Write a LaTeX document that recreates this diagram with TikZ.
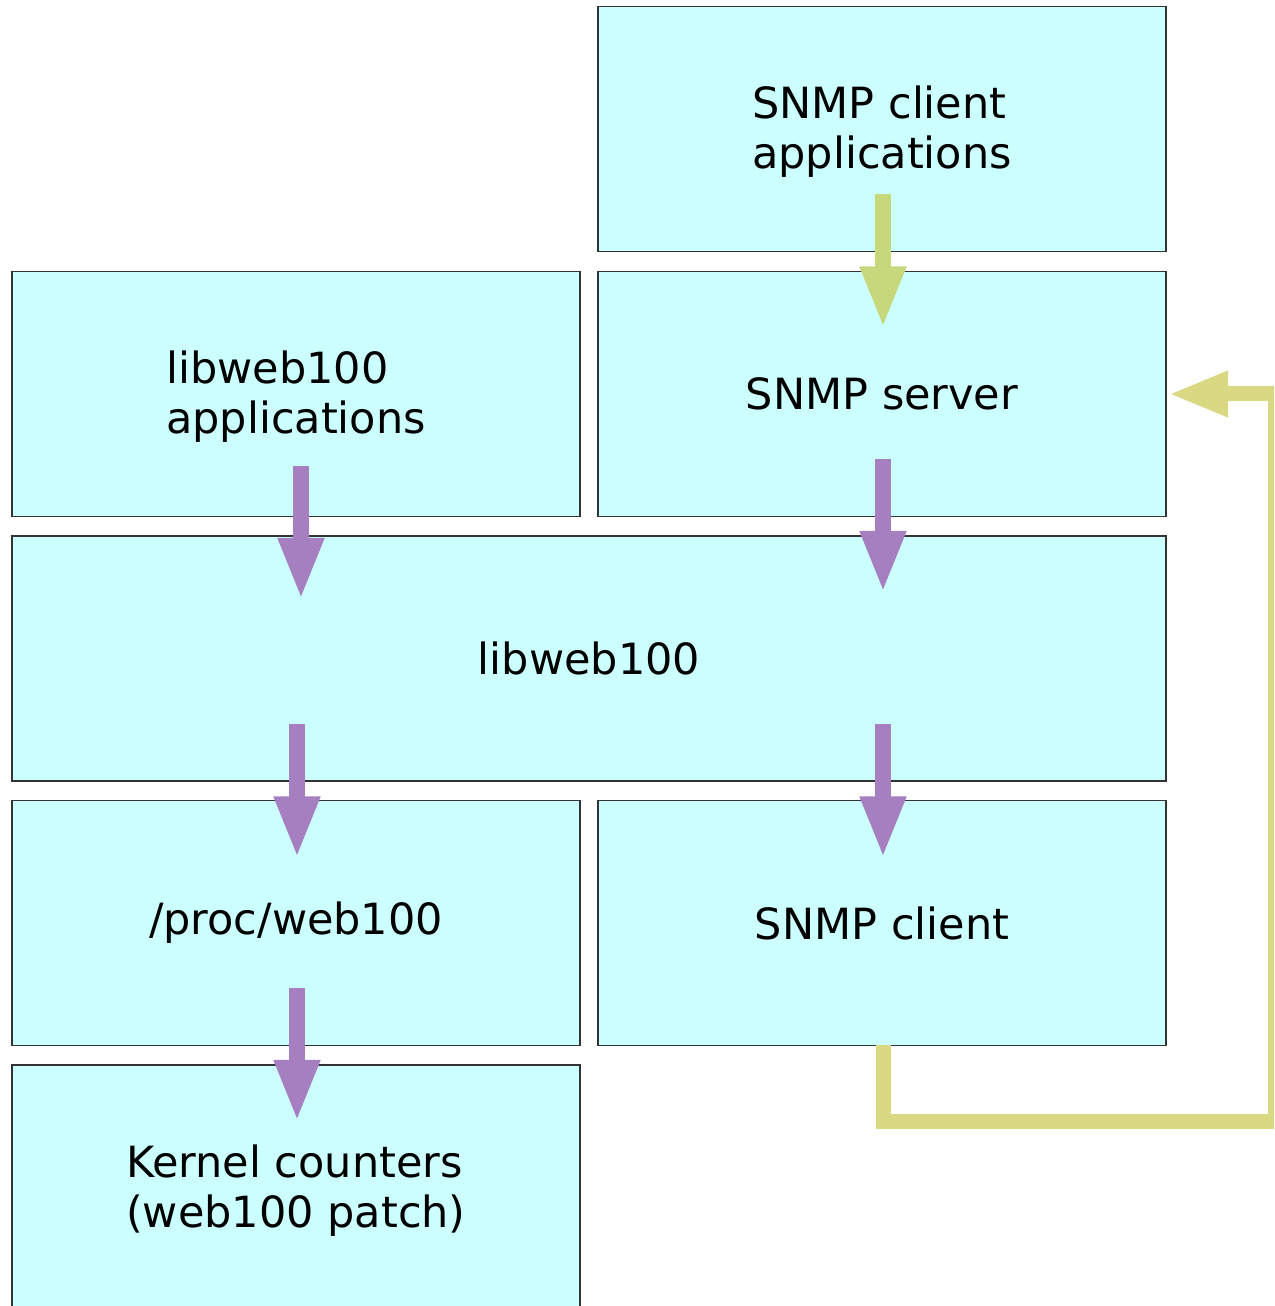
\documentclass[tikz,border=0pt]{standalone}
\usepackage{fontspec}
\setmainfont{DejaVu Sans}
\usetikzlibrary{arrows.meta}
\definecolor{boxfill}{HTML}{CCFFFF}
\definecolor{boxline}{HTML}{333333}
\definecolor{purplearr}{HTML}{A67FC0}
\definecolor{greenarr}{HTML}{C6D77C}
\definecolor{yellowline}{HTML}{D8D982}
\newcommand{\lowline}[1]{\raisebox{-3pt}[\height][\depth]{#1}}
\tikzset{
  box/.style={draw=boxline, line width=1.1pt, fill=boxfill, minimum width=568pt, minimum height=245pt,
    inner sep=0pt, outer sep=0pt, font=\fontsize{43}{50}\selectfont, align=left},
  purplearrow/.style={line width=16pt, draw=purplearr, -{Triangle[width=42pt,length=62pt]}},
  greenarrow/.style={line width=16pt, draw=greenarr, -{Triangle[width=42pt,length=62pt]}},
  feedback/.style={line width=15pt, draw=yellowline, line join=miter, -{Triangle[width=42pt,length=60pt]}}
}
\begin{document}
\begin{tikzpicture}[x=1pt,y=1pt]
\useasboundingbox (0,0) rectangle (1274,1306);
\clip (0,0) rectangle (1274,1306);
\fill[white] (0,0) rectangle (1274,1306);
\node[box] (sca) at (882,1177) {\lowline{SNMP client}\\\lowline{applications}};
\node[box] (libapps) at (296,912) {\lowline{libweb100}\\\lowline{applications}};
\node[box] (server) at (882,912) {SNMP server};
\node[box, minimum width=1154pt] (lib) at (589,647.5) {libweb100};
\node[box] (proc) at (296,383) {/proc/web100};
\node[box] (client) at (882,383) {SNMP client};
\node[box] (kernel) at (296,118.5) {\lowline{Kernel counters}\\\lowline{(web100 patch)}};
\coordinate (corner) at (1275,184);
\draw[purplearrow] ([xshift=5pt,yshift=50pt]libapps.south) -- ([xshift=5pt,yshift=-64pt]libapps.south |- lib.north);
\draw[purplearrow] ([xshift=1pt,yshift=57pt]server.south) -- ([xshift=1pt,yshift=-57pt]server.south |- lib.north);
\draw[purplearrow] ([xshift=1pt,yshift=57pt]proc.north |- lib.south) -- ([xshift=1pt,yshift=-58pt]proc.north);
\draw[purplearrow] ([xshift=1pt,yshift=57pt]client.north |- lib.south) -- ([xshift=1pt,yshift=-58pt]client.north);
\draw[purplearrow] ([xshift=1pt,yshift=57pt]proc.south) -- ([xshift=1pt,yshift=-57pt]kernel.north);
\draw[greenarrow] ([xshift=1pt,yshift=57pt]sca.south) -- ([xshift=1pt,yshift=-57pt]server.north);
\draw[feedback] ([xshift=1pt]client.south) |- (corner) |- ([xshift=2pt]server.east);
\end{tikzpicture}
\end{document}
